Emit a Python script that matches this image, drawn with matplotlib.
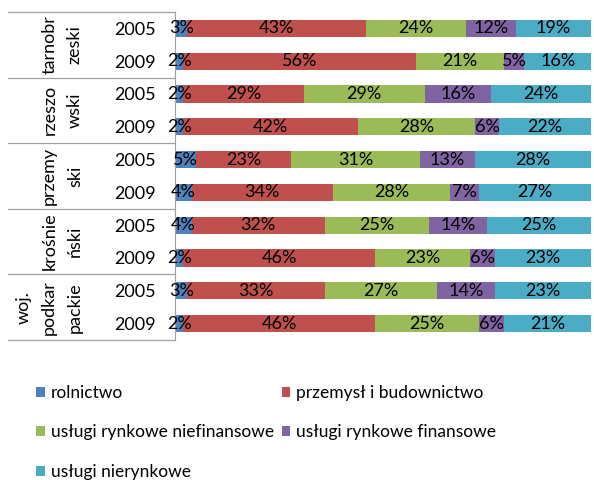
import matplotlib.pyplot as plt
import numpy as np

plt.rcParams['font.family'] = ['Lato', 'DejaVu Sans']

# regiony i lata
regiony = ['tarnobr\nzeski', 'rzeszo\nwski', 'przemy\nski', 'krośnie\nński', 'woj.\npodkar\npackie']
lata = ['2005', '2009']

# struktura wartości dodanej brutto (%), kolejno wiersze: region x rok
rolnictwo = [3, 2, 2, 2, 5, 4, 4, 2, 3, 2]
przemysl = [43, 56, 29, 42, 23, 34, 32, 46, 33, 46]
rynkowe_niefin = [24, 21, 29, 28, 31, 28, 25, 23, 27, 25]
rynkowe_fin = [12, 5, 16, 6, 13, 7, 14, 6, 14, 6]
nierynkowe = [19, 16, 24, 22, 28, 27, 25, 23, 23, 21]

serie = [
    ('rolnictwo', rolnictwo, '#4F81BD'),
    ('przemysł i budownictwo', przemysl, '#C0504D'),
    ('usługi rynkowe niefinansowe', rynkowe_niefin, '#9BBB59'),
    ('usługi rynkowe finansowe', rynkowe_fin, '#8064A2'),
    ('usługi nierynkowe', nierynkowe, '#4BACC6'),
]

FS = 12.5
W, H = 594, 480
fig = plt.figure(figsize=(W / 100, H / 100), dpi=100)
ax = fig.add_axes([175 / W, 1 - 340 / H, 416 / W, 328 / H])

n = len(regiony) * len(lata)
y = np.arange(n)
left = np.zeros(n)
for nazwa, vals, kolor in serie:
    vals = np.array(vals, dtype=float)
    bars = ax.barh(y, vals, left=left, height=0.52, color=kolor, label=nazwa)
    ax.bar_label(bars, labels=[f'{v:.0f}%' for v in vals], label_type='center',
                 fontsize=13, color='black')
    left += vals

ax.set_xlim(0, 100)
ax.set_ylim(n - 0.5, -0.5)
ax.set_xticks([])
ax.set_yticks(y)
ax.set_yticklabels(lata * len(regiony), fontsize=13)
ax.tick_params(axis='y', length=0, pad=14)
for s in ['top', 'right', 'bottom']:
    ax.spines[s].set_visible(False)
ax.spines['left'].set_color('#A0A0A0')

# siatka kategorii po lewej stronie osi
tr = ax.get_yaxis_transform()
x0 = (8 - 175) / 416
for k in range(len(regiony) + 1):
    yy = k * len(lata) - 0.5
    ax.plot([x0, 0], [yy, yy], transform=tr, color='#A0A0A0', lw=0.9, clip_on=False)
for k, r in enumerate(regiony):
    yc = k * len(lata) + 0.5
    ax.text((83 - 175) / 416, yc, r, transform=tr, rotation=90, ha='right', va='center',
            multialignment='center', fontsize=13, linespacing=1.75)

# legenda wypełniana wierszami
h, l = ax.get_legend_handles_labels()
kol = [0, 2, 4, 1, 3]
fig.legend([h[i] for i in kol], [l[i] for i in kol], loc='upper left',
           bbox_to_anchor=(36 / W, 1 - 385 / H), ncol=2, frameon=False,
           fontsize=FS, handlelength=0.5, handleheight=0.5, handletextpad=0.35,
           columnspacing=0.45, labelspacing=1.35, borderpad=0, borderaxespad=0)

fig.savefig('out.png', dpi=100)
